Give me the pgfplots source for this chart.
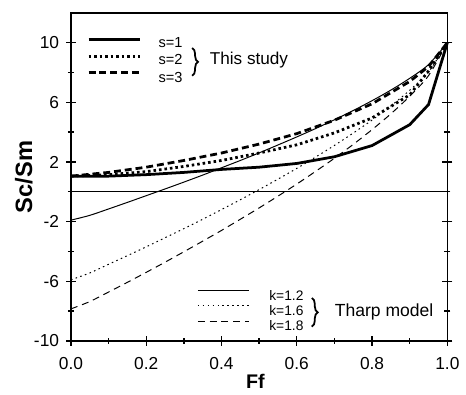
\documentclass[border=0pt]{standalone}
\usepackage{fontspec}
\setmainfont{Liberation Sans}
\usepackage{pgfplots}
\pgfplotsset{compat=1.18}
\usetikzlibrary{decorations.pathreplacing}

\pgfplotstableread{
x y
0.00 1.05
0.10 1.05
0.20 1.15
0.30 1.30
0.40 1.50
0.50 1.65
0.60 1.90
0.70 2.35
0.80 3.10
0.90 4.50
0.95 5.85
1.00 10.0
}\sone
\pgfplotstableread{
x y
0.00 1.05
0.10 1.15
0.20 1.35
0.30 1.70
0.40 2.10
0.50 2.60
0.60 3.15
0.70 3.95
0.80 4.95
0.90 6.50
0.95 8.10
1.00 10.0
}\stwo
\pgfplotstableread{
x y
0.00 1.05
0.10 1.30
0.20 1.65
0.30 2.10
0.40 2.60
0.50 3.20
0.60 3.90
0.70 4.80
0.80 5.90
0.90 7.40
0.95 8.40
1.00 10.0
}\sthree
\pgfplotstableread{
x y
0.00 -1.90
0.05 -1.58
0.10 -1.15
0.15 -0.71
0.20 -0.26
0.25 0.19
0.30 0.65
0.35 1.12
0.40 1.61
0.45 2.10
0.50 2.61
0.55 3.14
0.60 3.68
0.65 4.24
0.70 4.83
0.75 5.45
0.80 6.11
0.85 6.82
0.90 7.61
0.95 8.53
1.00 10.0
}\kone
\pgfplotstableread{
x y
0.00 -5.90
0.05 -5.44
0.10 -4.86
0.15 -4.28
0.20 -3.69
0.25 -3.08
0.30 -2.47
0.35 -1.84
0.40 -1.19
0.45 -0.53
0.50 0.15
0.55 0.85
0.60 1.57
0.65 2.33
0.70 3.11
0.75 3.94
0.80 4.81
0.85 5.76
0.90 6.81
0.95 8.04
1.00 10.0
}\ktwo
\pgfplotstableread{
x y
0.00 -7.85
0.05 -7.36
0.10 -6.72
0.15 -6.07
0.20 -5.40
0.25 -4.72
0.30 -4.02
0.35 -3.31
0.40 -2.59
0.45 -1.84
0.50 -1.08
0.55 -0.29
0.60 0.52
0.65 1.37
0.70 2.25
0.75 3.18
0.80 4.17
0.85 5.23
0.90 6.41
0.95 7.79
1.00 10.0
}\kthree

\begin{document}
\begin{tikzpicture}
\begin{axis}[name=ax, scale only axis, width=191pt, height=166.5pt,
  xmin=0, xmax=1, ymin=-10, ymax=12,
  xtick={0,0.2,0.4,0.6,0.8,1}, minor x tick num=1,
  ytick={-10,-6,-2,2,6,10}, minor ytick={-8,-4,0,4,8},
  xtick pos=bottom, ytick pos=both, yticklabel pos=left,
  tick align=center, major tick length=5pt, minor tick length=3pt,
  axis line style={line width=0.8pt},
  every tick/.style={black, line width=0.7pt},
  ticklabel style={font=\fontsize{8.8}{10}\selectfont},
  /pgf/number format/assume math mode=true,
  xticklabel style={yshift=-2.5pt, /pgf/number format/.cd, fixed, fixed zerofill, precision=1},
  xlabel={\textbf{Ff}}, ylabel={\textbf{Sc/Sm}},
  xlabel style={font=\fontsize{10}{11}\selectfont, at={(axis description cs:0.49,-0.122)}, anchor=center},
  ylabel style={font=\fontsize{12}{13}\selectfont, at={(axis description cs:-0.125,0.5)}, anchor=center},
  clip=false,
]
\addplot[black, line width=0.5pt] coordinates {(0,0) (1,0)};
\addplot[black, line width=1.4pt] table {\sone};
\addplot[black, line width=1.4pt, dash pattern=on 1.3pt off 1.5pt] table {\stwo};
\addplot[black, line width=1.4pt, dash pattern=on 3.5pt off 2pt] table {\sthree};
\addplot[black, line width=0.5pt, smooth] table {\kone};
\addplot[black, line width=0.5pt, dash pattern=on 0.8pt off 1.7pt, smooth] table {\ktwo};
\addplot[black, line width=0.5pt, dash pattern=on 3.5pt off 2.5pt, smooth] table {\kthree};

% legend: This study
\draw[black, line width=1.4pt] (axis cs:0.047,10.19) -- (axis cs:0.184,10.19);
\draw[black, line width=1.4pt, dash pattern=on 1.3pt off 1.5pt] (axis cs:0.047,9.09) -- (axis cs:0.184,9.09);
\draw[black, line width=1.4pt, dash pattern=on 3.5pt off 2pt] (axis cs:0.047,7.98) -- (axis cs:0.184,7.98);
\node[anchor=west, inner sep=0pt, font=\fontsize{7.4}{8}\selectfont] at (axis cs:0.232,10.0) {s=1};
\node[anchor=west, inner sep=0pt, font=\fontsize{7.4}{8}\selectfont] at (axis cs:0.232,8.84) {s=2};
\node[anchor=west, inner sep=0pt, font=\fontsize{7.4}{8}\selectfont] at (axis cs:0.232,7.68) {s=3};
\draw[black, line width=0.9pt, decorate, decoration={brace, amplitude=3pt}] (axis cs:0.322,9.64) -- (axis cs:0.322,7.78);
\node[anchor=west, inner sep=0pt, font=\fontsize{8.7}{10}\selectfont] at (axis cs:0.368,8.84) {This study};

% legend: Tharp model
\draw[black, line width=0.5pt] (axis cs:0.337,-6.59) -- (axis cs:0.474,-6.59);
\draw[black, line width=0.5pt, dash pattern=on 0.8pt off 1.7pt] (axis cs:0.337,-7.65) -- (axis cs:0.474,-7.65);
\draw[black, line width=0.5pt, dash pattern=on 3.5pt off 2.5pt] (axis cs:0.337,-8.71) -- (axis cs:0.474,-8.71);
\node[anchor=west, inner sep=0pt, font=\fontsize{7}{8}\selectfont] at (axis cs:0.526,-6.92) {k=1.2};
\node[anchor=west, inner sep=0pt, font=\fontsize{7}{8}\selectfont] at (axis cs:0.526,-7.98) {k=1.6};
\node[anchor=west, inner sep=0pt, font=\fontsize{7}{8}\selectfont] at (axis cs:0.526,-9.00) {k=1.8};
\draw[black, line width=0.9pt, decorate, decoration={brace, amplitude=3pt}] (axis cs:0.640,-7.12) -- (axis cs:0.640,-9.04);
\node[anchor=west, inner sep=0pt, font=\fontsize{8.9}{10}\selectfont] at (axis cs:0.70,-8.05) {Tharp model};
\end{axis}
\path ([xshift=-36pt,yshift=-25pt]ax.south west) rectangle ([xshift=6pt,yshift=6.5pt]ax.north east);
\end{tikzpicture}
\end{document}
